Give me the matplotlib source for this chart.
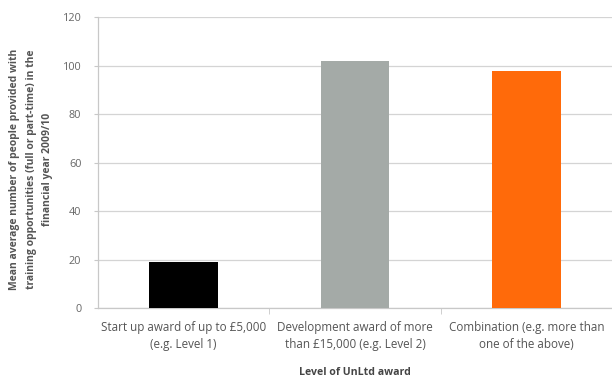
import matplotlib
matplotlib.use("Agg")
import matplotlib.pyplot as plt
import numpy as np

categories = ["Start up award of up to £5,000\n(e.g. Level 1)",
              "Development award of more\nthan £15,000 (e.g. Level 2)",
              "Combination (e.g. more than\none of the above)"]
values = [19, 102, 98]
colors = ["#000000", "#a4aaa7", "#ff6a0a"]
yticks = [0, 20, 40, 60, 80, 100, 120]
ylabel_lines = ["Mean average number of people provided with",
                "training opportunities (full or part-time) in the",
                "financial year 2009/10"]

plt.rcParams['font.family'] = ['Open Sans', 'DejaVu Sans']

fig = plt.figure(figsize=(6.12, 3.81), dpi=100)
ax = fig.add_axes([0.160, 0.191, 0.840, 0.764])

x = np.arange(len(categories))
ax.bar(x, values, width=0.4, color=colors, zorder=3)

ax.set_xlim(-0.5, 2.5)
ax.set_ylim(0, 120)
ax.set_yticks(yticks)
ax.yaxis.grid(True, color="#d4d4d4", linewidth=0.9, zorder=0)
ax.set_axisbelow(True)

for s in ["top", "right"]:
    ax.spines[s].set_visible(False)
for s in ["left", "bottom"]:
    ax.spines[s].set_color("#c8c8c8")
    ax.spines[s].set_linewidth(0.9)

ax.set_xticks(x)
ax.set_xticklabels(categories, fontsize=8.4, color="#555555", linespacing=1.45)
ax.tick_params(axis="x", length=0, pad=9)
ax.set_xticks([0.5, 1.5], minor=True)
ax.tick_params(axis="x", which="minor", length=4, color="#c8c8c8")
ax.tick_params(axis="y", labelsize=7.8, labelcolor="#666666", length=3, color="#c8c8c8", pad=9)

ax.set_xlabel("Level of UnLtd award", fontsize=7.6, fontweight="bold", color="#444444", labelpad=11)

for i, line in enumerate(ylabel_lines):
    fig.text(0.024 + i * 0.027, 0.555, line, rotation=90, ha="center", va="center",
             fontsize=7.5, fontweight="bold", color="#555555")

fig.savefig("out.png", dpi=100)
